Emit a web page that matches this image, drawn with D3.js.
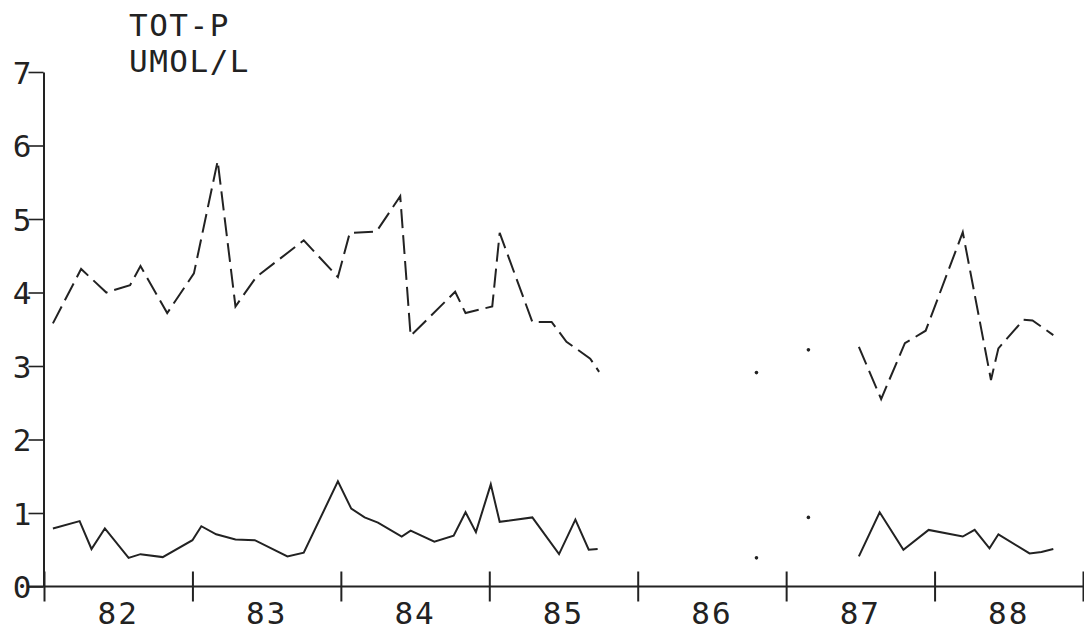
<!DOCTYPE html>
<html>
<head>
<meta charset="utf-8">
<script src="https://cdn.jsdelivr.net/npm/d3@7"></script>
<style>
  html, body { margin: 0; padding: 0; background: #fff; }
  svg text { font-family: "DejaVu Sans Mono", "Liberation Mono", monospace; fill: #222; }
</style>
</head>
<body>
<svg id="chart" width="1084" height="633"></svg>
<script>
// Sampling dates (decimal year) and total phosphorus (umol/l); null breaks the line
const upperDates = [1982.06, 1982.25, 1982.42, 1982.58, 1982.65, 1982.83, 1983.01, 1983.17, 1983.29, 1983.43,
  1983.75, 1983.98, 1984.06, 1984.24, 1984.40, 1984.47, 1984.77, 1984.84, 1985.02, 1985.07,
  1985.29, 1985.42, 1985.52, 1985.68, 1985.74, 1986.30, 1986.80, 1987.00, 1987.15, 1987.30,
  1987.49, 1987.64, 1987.80, 1987.94, 1988.19, 1988.38, 1988.43, 1988.60, 1988.66, 1988.80];
const upperValues = [3.58, 4.32, 4.00, 4.10, 4.36, 3.72, 4.26, 5.79, 3.81, 4.21,
  4.71, 4.21, 4.81, 4.83, 5.31, 3.41, 4.01, 3.72, 3.81, 4.81,
  3.60, 3.60, 3.33, 3.10, 2.92, null, 2.91, null, 3.22, null,
  3.26, 2.55, 3.31, 3.48, 4.82, 2.81, 3.24, 3.63, 3.62, 3.42];

const lowerDates = [1982.06, 1982.24, 1982.32, 1982.41, 1982.57, 1982.65, 1982.80, 1983.00, 1983.06, 1983.16,
  1983.29, 1983.42, 1983.64, 1983.75, 1983.98, 1984.07, 1984.16, 1984.25, 1984.41, 1984.47,
  1984.63, 1984.76, 1984.84, 1984.91, 1985.01, 1985.07, 1985.29, 1985.47, 1985.58, 1985.67,
  1985.73, 1986.30, 1986.80, 1987.00, 1987.15, 1987.30, 1987.49, 1987.63, 1987.79, 1987.96,
  1988.19, 1988.27, 1988.37, 1988.43, 1988.64, 1988.72, 1988.80];
const lowerValues = [0.79, 0.89, 0.51, 0.79, 0.39, 0.44, 0.40, 0.63, 0.82, 0.71,
  0.64, 0.63, 0.41, 0.46, 1.43, 1.06, 0.94, 0.87, 0.68, 0.76,
  0.61, 0.69, 1.01, 0.74, 1.39, 0.88, 0.94, 0.44, 0.91, 0.50,
  0.51, null, 0.39, null, 0.94, null, 0.41, 1.01, 0.50, 0.77,
  0.68, 0.77, 0.52, 0.71, 0.45, 0.47, 0.51];

const yTicks = [0, 1, 2, 3, 4, 5, 6, 7];
const yearBoundaries = [1982, 1983, 1984, 1985, 1986, 1987, 1988, 1989];
const yearLabels = ["82", "83", "84", "85", "86", "87", "88"];
const titleLines = ["TOT-P", "UMOL/L"];

const ink = "#222";
const svg = d3.select("#chart");

const x = d3.scaleLinear().domain([1982, 1989]).range([44, 1083]);
const y = d3.scaleLinear().domain([0, 7]).range([586.5, 72]);

// Y axis
const yAxisG = svg.append("g")
  .attr("transform", "translate(43.5,0)")
  .call(d3.axisLeft(y).tickValues(yTicks).tickSizeInner(15).tickSizeOuter(0).tickPadding(0).tickFormat(d3.format("d")));
yAxisG.select(".domain").attr("stroke", ink).attr("stroke-width", 2);
yAxisG.selectAll(".tick line").attr("stroke", ink).attr("stroke-width", 1.6);
yAxisG.selectAll(".tick text")
  .attr("x", -12)
  .attr("dy", "0.36em")
  .style("font-size", "31px")
  .attr("fill", ink);

// X axis: year boundaries with ticks crossing the axis line
const xAxisG = svg.append("g")
  .attr("transform", `translate(0,${y(0)})`)
  .call(d3.axisBottom(x).tickValues(yearBoundaries).tickSizeInner(15).tickSizeOuter(0).tickFormat(""));
xAxisG.select(".domain").attr("stroke", ink).attr("stroke-width", 2)
  .attr("d", `M${x(1982) - 16},0H${x(1989)}`);
xAxisG.selectAll(".tick line").attr("stroke", ink).attr("stroke-width", 2).attr("y1", -15).attr("y2", 15);

// Year labels centred in each year
xAxisG.selectAll(".year-label")
  .data(yearLabels)
  .join("text")
  .attr("class", "year-label")
  .attr("x", (d, i) => x(1982 + i + 0.5))
  .attr("y", 37)
  .attr("text-anchor", "middle")
  .style("font-size", "31px")
  .style("letter-spacing", "2px")
  .text(d => d);

// Title
svg.selectAll(".title")
  .data(titleLines)
  .join("text")
  .attr("class", "title")
  .attr("x", 129)
  .attr("y", (d, i) => 36 + i * 36)
  .style("font-size", "31px")
  .style("letter-spacing", "1.5px")
  .text(d => d);

function drawSeries(dates, values, dash) {
  const pts = dates.map((t, i) => ({ t, v: values[i], i }));
  const line = d3.line()
    .defined(d => d.v !== null)
    .x(d => x(d.t))
    .y(d => y(d.v));
  svg.append("path")
    .datum(pts)
    .attr("fill", "none")
    .attr("stroke", ink)
    .attr("stroke-width", 2)
    .attr("stroke-linejoin", "miter")
    .attr("stroke-dasharray", dash)
    .attr("d", line);
  // isolated samples drawn as single dots
  const lone = pts.filter((d, i) => d.v !== null &&
    (i === 0 || pts[i - 1].v === null) && (i === pts.length - 1 || pts[i + 1].v === null));
  svg.selectAll(null)
    .data(lone)
    .join("circle")
    .attr("cx", d => x(d.t))
    .attr("cy", d => y(d.v))
    .attr("r", 1.8)
    .attr("fill", ink);
}

drawSeries(upperDates, upperValues, "19,7");
drawSeries(lowerDates, lowerValues, null);
</script>
</body>
</html>
